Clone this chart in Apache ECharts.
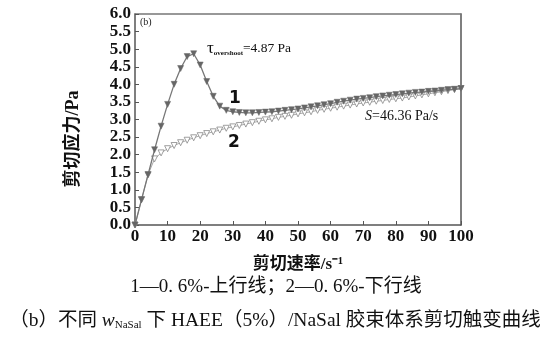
<!DOCTYPE html>
<html><head><meta charset="utf-8">
<script src="https://cdn.jsdelivr.net/npm/echarts@6/dist/echarts.min.js"></script>
<style>html,body{margin:0;padding:0;background:#fff}#c{width:548px;height:343px}</style>
</head><body><div id="c"></div>
<script>
var shearRate = [0,2,4,6,8,10,12,14,16,18,20,22,24,26,28,30,32,34,36,38,40,42,44,46,48,50,52,54,56,58,60,62,64,66,68,70,72,74,76,78,80,82,84,86,88,90,92,94,96,98,100];
var upCurve = [0,0.72,1.43,2.14,2.81,3.43,4.00,4.45,4.79,4.87,4.55,4.08,3.66,3.38,3.26,3.22,3.20,3.19,3.19,3.20,3.21,3.22,3.24,3.26,3.28,3.30,3.33,3.36,3.39,3.42,3.45,3.49,3.52,3.55,3.58,3.60,3.62,3.65,3.67,3.69,3.71,3.73,3.75,3.77,3.78,3.80,3.81,3.83,3.85,3.86,3.88];
var downCurve = [0,0.72,1.43,1.88,2.05,2.17,2.26,2.34,2.41,2.48,2.54,2.60,2.65,2.70,2.75,2.79,2.83,2.87,2.91,2.95,2.99,3.02,3.06,3.09,3.12,3.16,3.19,3.22,3.26,3.29,3.32,3.35,3.38,3.41,3.44,3.47,3.49,3.52,3.54,3.57,3.59,3.61,3.64,3.67,3.70,3.73,3.76,3.79,3.82,3.85,3.88];
var yTicks = ['0.0','0.5','1.0','1.5','2.0','2.5','3.0','3.5','4.0','4.5','5.0','5.5','6.0'];

function pairs(ys){ return shearRate.map(function(x,i){return [x, ys[i]];}); }
var serif = '"Liberation Serif","DejaVu Serif",serif';
var cjk = '"Liberation Serif","Noto Sans CJK SC",serif';

var chart = echarts.init(document.getElementById('c'), null, {renderer:'canvas'});
chart.setOption({
  animation:false,
  backgroundColor:'#fff',
  grid:{left:135,right:87,top:14,bottom:118,containLabel:false},
  xAxis:[{
    type:'value',min:0,max:100,interval:10,
    axisLine:{show:true,lineStyle:{color:'#555',width:1.5}},
    axisTick:{show:true,inside:true,length:4,lineStyle:{color:'#555',width:1}},
    splitLine:{show:false},
    axisLabel:{color:'#111',fontFamily:serif,fontWeight:'bold',fontSize:17,margin:3,showMinLabel:true,showMaxLabel:true},
    name:'剪切速率/s⁻¹',nameLocation:'middle',nameGap:31,
    nameTextStyle:{color:'#111',fontFamily:cjk,fontWeight:'bold',fontSize:17}
  },{
    type:'value',position:'top',min:0,max:100,
    axisLine:{show:true,onZero:false,lineStyle:{color:'#777',width:1.5}},
    axisTick:{show:false},axisLabel:{show:false},splitLine:{show:false}
  }],
  yAxis:[{
    type:'value',min:0,max:6,interval:0.5,
    axisLine:{show:true,lineStyle:{color:'#555',width:1.5}},
    axisTick:{show:true,inside:true,length:4,lineStyle:{color:'#555',width:1}},
    splitLine:{show:false},
    axisLabel:{color:'#111',fontFamily:serif,fontWeight:'bold',fontSize:17,margin:4,showMinLabel:true,showMaxLabel:true,
      formatter:function(v){ return yTicks[Math.round(v*2)]; }}
  },{
    type:'value',position:'right',min:0,max:6,
    axisLine:{show:true,onZero:false,lineStyle:{color:'#555',width:1.5}},
    axisTick:{show:false},axisLabel:{show:false},splitLine:{show:false}
  }],
  series:[{
    name:'1',type:'line',data:pairs(upCurve),
    symbol:'triangle',symbolRotate:180,symbolSize:6,
    lineStyle:{color:'#777',width:1.3},
    itemStyle:{color:'#666',borderColor:'#666',borderWidth:0.5},
    z:3
  },{
    name:'2',type:'line',data:pairs(downCurve),
    symbol:'triangle',symbolRotate:180,symbolSize:6,
    lineStyle:{color:'#aaa',width:1},
    itemStyle:{color:'#fff',borderColor:'#888',borderWidth:0.8},
    z:2
  }],
  graphic:[
    {type:'text',left:140,top:17,style:{text:'(b)',font:'10px '+serif,fill:'#222'}},
    {type:'text',left:207,top:40,style:{
      text:'{t|τ}{s|overshoot}{n|=4.87 Pa}',
      rich:{t:{font:'17px '+serif,fill:'#111'},s:{font:'bold 7px '+serif,fill:'#111',padding:[9,0,0,0]},n:{font:'13.5px '+serif,fill:'#111'}}}},
    {type:'text',left:229,top:90,style:{text:'1',font:'bold 17px "DejaVu Sans",sans-serif',fill:'#111'}},
    {type:'text',left:228,top:134,style:{text:'2',font:'bold 17px "DejaVu Sans",sans-serif',fill:'#111'}},
    {type:'text',left:365,top:109,style:{
      text:'{i|S}{n|=46.36 Pa/s}',
      rich:{i:{font:'italic 14px '+serif,fill:'#111'},n:{font:'14px '+serif,fill:'#111'}}}},
    {type:'text',x:73,y:139,rotation:Math.PI/2,style:{
      text:'剪切应力/Pa',font:'bold 18px '+cjk,fill:'#111',align:'center',verticalAlign:'middle'}},
    {type:'text',x:276,y:287,style:{text:'1—0. 6%-上行线；2—0. 6%-下行线',font:'19px '+cjk,fill:'#111',align:'center',verticalAlign:'middle'}},
    {type:'text',x:275,y:321,style:{
      text:'{a|（b）不同 }{w|w}{s|NaSal}{a| 下 HAEE（5%）/NaSal 胶束体系剪切触变曲线}',
      align:'center',verticalAlign:'middle',
      rich:{a:{font:'19.5px '+cjk,fill:'#111'},w:{font:'italic 19.5px '+serif,fill:'#111'},s:{font:'11px '+serif,fill:'#111',padding:[9,0,0,0]}}}}
  ]
});
</script></body></html>
